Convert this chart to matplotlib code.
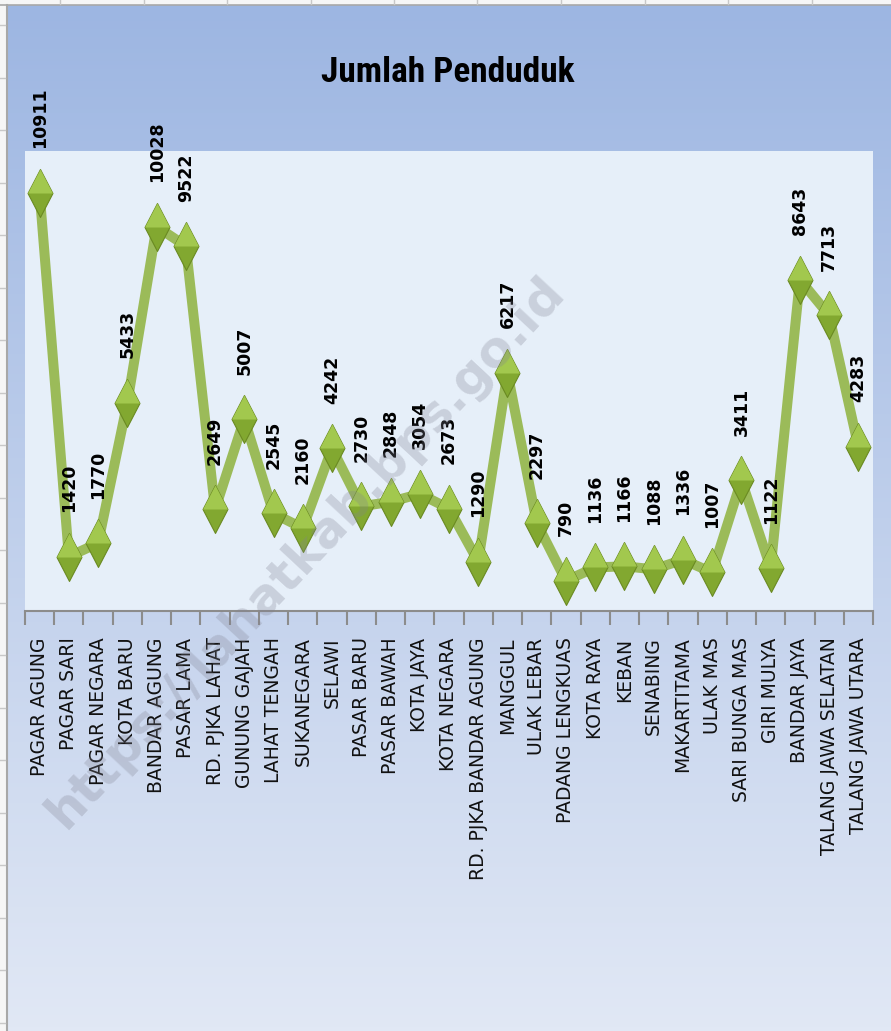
import matplotlib
matplotlib.use('Agg')
import matplotlib.pyplot as plt
import numpy as np
from matplotlib.path import Path
from matplotlib.lines import Line2D
from matplotlib import font_manager

categories = ["PAGAR AGUNG", "PAGAR SARI", "PAGAR NEGARA", "KOTA BARU", "BANDAR AGUNG",
              "PASAR LAMA", "RD. PJKA LAHAT", "GUNUNG GAJAH", "LAHAT TENGAH", "SUKANEGARA",
              "SELAWI", "PASAR BARU", "PASAR BAWAH", "KOTA JAYA", "KOTA NEGARA",
              "RD. PJKA BANDAR AGUNG", "MANGGUL", "ULAK LEBAR", "PADANG LENGKUAS", "KOTA RAYA",
              "KEBAN", "SENABING", "MAKARTITAMA", "ULAK MAS", "SARI BUNGA MAS",
              "GIRI MULYA", "BANDAR JAYA", "TALANG JAWA SELATAN", "TALANG JAWA UTARA"]
values = [10911, 1420, 1770, 5433, 10028, 9522, 2649, 5007, 2545, 2160,
          4242, 2730, 2848, 3054, 2673, 1290, 6217, 2297, 790, 1136,
          1166, 1088, 1336, 1007, 3411, 1122, 8643, 7713, 4283]
title = "Jumlah Penduduk"
watermark = "https://lahatkab.bps.go.id"

W, H = 891, 1031

# pick a condensed font for the title if one is installed
ttf = font_manager.fontManager.ttflist
names = {f.name for f in ttf}
title_kw = dict(family='Liberation Sans', fontsize=22)
for cand in ['Liberation Sans Narrow', 'Roboto Condensed', 'Open Sans Condensed',
             'Noto Sans Condensed', 'DejaVu Sans Condensed']:
    if cand in names:
        title_kw = dict(family=cand, fontsize=25.5)
        break
else:
    cond = [f for f in ttf if f.name == 'DejaVu Sans' and 'condensed' in str(f.stretch)]
    if cond:
        title_kw = dict(family='DejaVu Sans', fontstretch='condensed', fontsize=23)

fig = plt.figure(figsize=(W / 100, H / 100), dpi=100)
fig.patch.set_facecolor('#f6f6f6')

# chart background gradient
bg = fig.add_axes([6 / W, 0, 1 - 6 / W, 1 - 5 / H])
t = np.linspace(0, 1, 256)[:, None, None]
top_c = np.array([157, 182, 226]) / 255
bot_c = np.array([225, 232, 245]) / 255
img = top_c + (bot_c - top_c) * t
bg.imshow(img, aspect='auto', extent=[0, 1, 0, 1])
bg.axis('off')

# spreadsheet remnants (top strip and left strip)
fig.add_artist(Line2D([0, 1], [1 - 4.5 / H] * 2, color='#a8a8a8', lw=1.2))
fig.add_artist(Line2D([6.5 / W] * 2, [0, 1 - 5 / H], color='#a8a8a8', lw=1.5))
for xs in np.arange(60, W, 83.5):
    fig.add_artist(Line2D([xs / W] * 2, [1, 1 - 4 / H], color='#c8c8c8', lw=1))
for ys in np.arange(25, H, 52.5):
    fig.add_artist(Line2D([0, 5 / W], [1 - ys / H] * 2, color='#c8c8c8', lw=1))

# plot area
ax = fig.add_axes([25 / W, 1 - 611 / H, 848 / W, 460 / H])
ax.set_facecolor('#e6eff9')
x = np.arange(len(values))

diamond = Path([(0, 1), (0.52, 0), (0, -1), (-0.52, 0), (0, 1)],
               [Path.MOVETO, Path.LINETO, Path.LINETO, Path.LINETO, Path.CLOSEPOLY])
upper = Path([(-0.52, 0), (0, 1), (0.52, 0), (-0.52, 0)],
             [Path.MOVETO, Path.LINETO, Path.LINETO, Path.CLOSEPOLY])

ax.plot(x, values, color='#9bbb59', lw=7.2, solid_joinstyle='round', zorder=3)
ax.plot(x, values, ls='none', marker=diamond, ms=34.5, mfc='#82a830', mec='#6a8a22',
        mew=0.8, zorder=4)
ax.plot(x, values, ls='none', marker=upper, ms=34.5, mfc='#a2c84e', mec='none', zorder=5)

for xi, v in zip(x, values):
    ax.annotate(str(v), (xi, v), xytext=(0, 32), textcoords='offset points',
                rotation=90, ha='center', va='bottom', fontsize=12.5, fontweight='bold',
                color='black', annotation_clip=False, zorder=6)

ax.set_xlim(-0.5, len(values) - 0.5)
ax.set_ylim(0, 12000)
ax.set_yticks([])
for s in ['left', 'right', 'top']:
    ax.spines[s].set_visible(False)
ax.spines['bottom'].set_color('#8c8c8c')
ax.spines['bottom'].set_linewidth(1.5)
ax.set_xticks(x)
ax.set_xticklabels(categories, rotation=90, fontsize=13.5, color='#111111')
ax.tick_params(axis='x', which='major', length=0, pad=19)
ax.set_xticks(np.arange(-0.5, len(values), 1), minor=True)
ax.tick_params(axis='x', which='minor', length=10, width=1.5, color='#8c8c8c')

fig.text(448 / W, 1 - 72 / H, title, ha='center', va='center',
         fontweight='bold', color='black', **title_kw)

fig.text(306 / W, 1 - 552 / H, watermark, rotation=47, ha='center', va='center',
         fontsize=36, fontweight='bold', color='#7f8090', alpha=0.28, zorder=10)

fig.savefig('out.png', dpi=100, facecolor=fig.get_facecolor())
